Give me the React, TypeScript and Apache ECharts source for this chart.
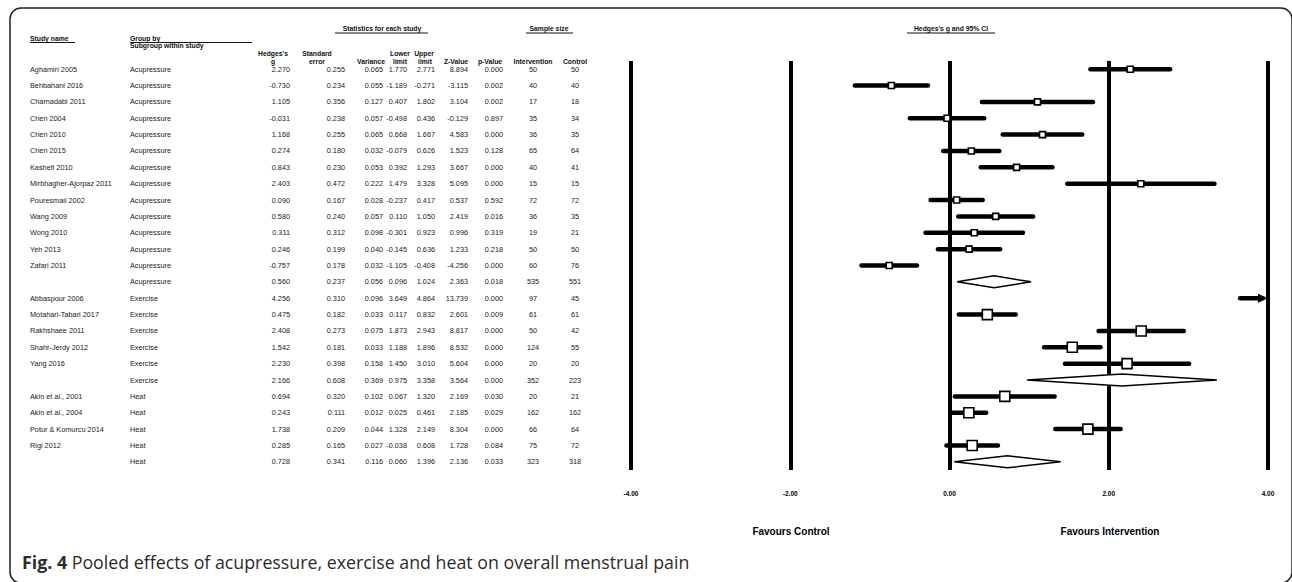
import React, { useEffect, useRef } from "react";
import * as echarts from "echarts";

// ---------- DATA ----------
const studyNames = [
  "Aghamiri 2005", "Behbahani 2016", "Charnadabi 2011", "Chen 2004", "Chen 2010", "Chen 2015",
  "Kashefi 2010", "Mirbhagher-Ajorpaz 2011", "Pouresmail 2002", "Wang 2009", "Wong 2010", "Yeh 2013",
  "Zafari 2011", "",
  "Abbaspour 2006", "Motahari-Tabari 2017", "Rakhshaee 2011", "Shahr-Jerdy 2012", "Yang 2016", "",
  "Akin et al., 2001", "Akin et al., 2004", "Potur & Komurcu 2014", "Rigi 2012", "",
];
const subgroups = [
  "Acupressure", "Acupressure", "Acupressure", "Acupressure", "Acupressure", "Acupressure",
  "Acupressure", "Acupressure", "Acupressure", "Acupressure", "Acupressure", "Acupressure",
  "Acupressure", "Acupressure",
  "Exercise", "Exercise", "Exercise", "Exercise", "Exercise", "Exercise",
  "Heat", "Heat", "Heat", "Heat", "Heat",
];
const hedgesG = [2.27, -0.73, 1.105, -0.031, 1.168, 0.274, 0.843, 2.403, 0.09, 0.58, 0.311, 0.246, -0.757, 0.56,
  4.256, 0.475, 2.408, 1.542, 2.23, 2.166, 0.694, 0.243, 1.738, 0.285, 0.728];
const stdError = [0.255, 0.234, 0.356, 0.238, 0.255, 0.18, 0.23, 0.472, 0.167, 0.24, 0.312, 0.199, 0.178, 0.237,
  0.31, 0.182, 0.273, 0.181, 0.398, 0.608, 0.32, 0.111, 0.209, 0.165, 0.341];
const variance = [0.065, 0.055, 0.127, 0.057, 0.065, 0.032, 0.053, 0.222, 0.028, 0.057, 0.098, 0.04, 0.032, 0.056,
  0.096, 0.033, 0.075, 0.033, 0.158, 0.369, 0.102, 0.012, 0.044, 0.027, 0.116];
const lowerLimit = [1.77, -1.189, 0.407, -0.498, 0.668, -0.079, 0.392, 1.479, -0.237, 0.11, -0.301, -0.145, -1.105, 0.096,
  3.649, 0.117, 1.873, 1.188, 1.45, 0.975, 0.067, 0.025, 1.328, -0.038, 0.06];
const upperLimit = [2.771, -0.271, 1.802, 0.436, 1.667, 0.626, 1.293, 3.328, 0.417, 1.05, 0.923, 0.636, -0.408, 1.024,
  4.864, 0.832, 2.943, 1.896, 3.01, 3.358, 1.32, 0.461, 2.149, 0.608, 1.396];
const zValue = [8.894, -3.115, 3.104, -0.129, 4.583, 1.523, 3.667, 5.095, 0.537, 2.419, 0.996, 1.233, -4.256, 2.363,
  13.739, 2.601, 8.817, 8.532, 5.604, 3.564, 2.169, 2.185, 8.304, 1.728, 2.136];
const pValue = [0.0, 0.002, 0.002, 0.897, 0.0, 0.128, 0.0, 0.0, 0.592, 0.016, 0.319, 0.218, 0.0, 0.018,
  0.0, 0.009, 0.0, 0.0, 0.0, 0.0, 0.03, 0.029, 0.0, 0.084, 0.033];
const nIntervention = [50, 40, 17, 35, 36, 65, 40, 15, 72, 36, 19, 50, 60, 535, 97, 61, 50, 124, 20, 352, 20, 162, 66, 75, 323];
const nControl = [50, 40, 18, 34, 35, 64, 41, 15, 72, 35, 21, 50, 76, 551, 45, 61, 42, 55, 20, 223, 21, 162, 64, 72, 318];

const axisMin = -4;
const axisMax = 4;
const axisInterval = 2;

const captionBold = "Fig. 4";
const captionText = " Pooled effects of acupressure, exercise and heat on overall menstrual pain";

// ---------- STYLE / LAYOUT ----------
const FONT = "'Liberation Sans', Arial, sans-serif";
const CAP_FONT = "'Open Sans', 'Noto Sans', sans-serif";
const TXT = "#222222";
const boxSize: Record<string, number> = { Acupressure: 6, Exercise: 10, Heat: 10 };

const columns = [
  { x: 30, align: "left", get: (i: number) => studyNames[i] },
  { x: 130, align: "left", get: (i: number) => subgroups[i] },
  { x: 290, align: "right", get: (i: number) => hedgesG[i].toFixed(3) },
  { x: 345, align: "right", get: (i: number) => stdError[i].toFixed(3) },
  { x: 383, align: "right", get: (i: number) => variance[i].toFixed(3) },
  { x: 407, align: "right", get: (i: number) => lowerLimit[i].toFixed(3) },
  { x: 435, align: "right", get: (i: number) => upperLimit[i].toFixed(3) },
  { x: 468, align: "right", get: (i: number) => zValue[i].toFixed(3) },
  { x: 503, align: "right", get: (i: number) => pValue[i].toFixed(3) },
  { x: 533, align: "center", get: (i: number) => String(nIntervention[i]) },
  { x: 575, align: "center", get: (i: number) => String(nControl[i]) },
];

function txt(text: string, x: number, y: number, opts: any = {}) {
  const align = opts.align || "left";
  return {
    type: "text",
    x,
    y,
    silent: true,
    style: {
      text,
      fontSize: opts.fontSize || 7.3,
      fontWeight: opts.bold ? "bold" : "normal",
      fontFamily: opts.fontFamily || FONT,
      fill: opts.fill || TXT,
      align,
      textAlign: align,
      verticalAlign: "middle",
      textVerticalAlign: "middle",
      lineHeight: opts.lineHeight,
      rich: opts.rich,
    },
  };
}
function hline(x1: number, x2: number, y: number, w = 1) {
  return {
    type: "line",
    silent: true,
    shape: { x1, y1: y, x2, y2: y },
    style: { stroke: "#111", lineWidth: w },
  };
}

export default function App() {
  const ref = useRef<HTMLDivElement>(null);

  useEffect(() => {
    if (!ref.current) return;
    const chart = echarts.init(ref.current, null, { renderer: "svg" });
    const n = studyNames.length;
    const isSummary = studyNames.map((s) => s === "");

    const studyData: any[] = [];
    const summaryData: any[] = [];
    for (let i = 0; i < n; i++) {
      const item = [hedgesG[i], i, lowerLimit[i], upperLimit[i], boxSize[subgroups[i]]];
      if (isSummary[i]) summaryData.push(item);
      else studyData.push(item);
    }
    const tableData = studyNames.map((_, i) => [0, i]);

    const hs = 6.8;
    const H = (t: string, x: number, y: number, align = "center") =>
      txt(t, x, y, { bold: true, fontSize: hs, align, lineHeight: 8, fill: "#111" });
    const graphics: any[] = [
      {
        type: "rect",
        silent: true,
        shape: { x: 10, y: 8, width: 1282, height: 575, r: 11 },
        style: { fill: "none", stroke: "#222", lineWidth: 1.5 },
      },
      H("Study name", 30, 38, "left"),
      hline(30, 75, 42.5),
      H("Group by", 130, 38, "left"),
      hline(130, 252, 42.5),
      H("Subgroup within study", 130, 45.5, "left"),
      H("Statistics for each study", 382, 28.5),
      hline(335, 428, 33),
      H("Sample size", 549, 28.5),
      hline(526, 573, 33),
      H("Hedges's g and 95% CI", 951, 28.5),
      hline(907, 995, 33),
      H("Hedges's", 273, 53),
      H("g", 273, 61.5),
      H("Standard", 317, 53),
      H("error", 317, 61.5),
      H("Variance", 371, 61.5),
      H("Lower", 400, 53),
      H("limit", 400, 61.5),
      H("Upper", 424, 53),
      H("limit", 425, 61.5),
      H("Z-Value", 456, 61.5),
      H("p-Value", 490, 61.5),
      H("Intervention", 533, 61.5),
      H("Control", 575, 61.5),
      txt("Favours Control", 791, 531, { bold: true, fontSize: 10, align: "center", fill: "#000" }),
      txt("Favours Intervention", 1110, 531, { bold: true, fontSize: 10, align: "center", fill: "#000" }),
      txt("{b|" + captionBold + "}" + captionText, 22, 562, {
        fontSize: 17.8,
        fontFamily: CAP_FONT,
        fill: "#2b2b2b",
        rich: { b: { fontWeight: "bold", fontSize: 17.8, fontFamily: CAP_FONT, fill: "#2b2b2b" } },
      }),
    ];

    chart.setOption({
      animation: false,
      backgroundColor: "#fff",
      grid: { left: 631, right: 24, top: 61, height: 409, containLabel: false },
      xAxis: {
        type: "value",
        min: axisMin,
        max: axisMax,
        interval: axisInterval,
        axisLine: { show: false },
        axisTick: { show: false },
        splitLine: { show: true, lineStyle: { color: "#000", width: 4 } },
        axisLabel: {
          formatter: (v: number) => v.toFixed(2),
          fontSize: 6.5,
          fontWeight: "bold",
          fontFamily: FONT,
          color: "#000",
          margin: 20,
          showMinLabel: true,
          showMaxLabel: true,
        },
      },
      yAxis: {
        type: "value",
        min: -0.5,
        max: n - 0.5,
        inverse: true,
        show: false,
        splitLine: { show: false },
      },
      graphic: { elements: graphics },
      series: [
        {
          type: "custom",
          name: "table",
          clip: false,
          silent: true,
          data: tableData,
          encode: { x: 0, y: 1 },
          renderItem: (params: any, api: any) => {
            const i = api.value(1);
            const y = api.coord([0, i])[1];
            return {
              type: "group",
              children: columns.map((c) => txt(c.get(i), c.x, y, { align: c.align })),
            };
          },
        },
        {
          type: "custom",
          name: "studies",
          clip: false,
          silent: true,
          data: studyData,
          encode: { x: 0, y: 1 },
          renderItem: (params: any, api: any) => {
            const est = api.value(0);
            const i = api.value(1);
            const lo = api.value(2);
            const hi = api.value(3);
            const s = api.value(4);
            const y = api.coord([0, i])[1];
            const xl = api.coord([Math.max(lo, axisMin), i])[0];
            const xh = api.coord([Math.min(hi, axisMax), i])[0];
            const children: any[] = [];
            if (hi > axisMax) {
              children.push({
                type: "line",
                shape: { x1: xl, y1: y, x2: xh - 6, y2: y },
                style: { stroke: "#000", lineWidth: 4.5, lineCap: "round" },
              });
              children.push({
                type: "polygon",
                shape: { points: [[xh - 10, y - 4.5], [xh, y], [xh - 10, y + 4.5]] },
                style: { fill: "#000" },
              });
            } else {
              children.push({
                type: "line",
                shape: { x1: xl, y1: y, x2: xh, y2: y },
                style: { stroke: "#000", lineWidth: 4.5, lineCap: "round" },
              });
            }
            if (est >= axisMin && est <= axisMax) {
              const xe = api.coord([est, i])[0];
              children.push({
                type: "rect",
                shape: { x: xe - s / 2, y: y - s / 2, width: s, height: s },
                style: { fill: "#fff", stroke: "#000", lineWidth: 1.6 },
              });
            }
            return { type: "group", children };
          },
        },
        {
          type: "custom",
          name: "summaries",
          clip: false,
          silent: true,
          data: summaryData,
          encode: { x: 0, y: 1 },
          renderItem: (params: any, api: any) => {
            const est = api.value(0);
            const i = api.value(1);
            const lo = api.value(2);
            const hi = api.value(3);
            const y = api.coord([0, i])[1];
            const xl = api.coord([lo, i])[0];
            const xh = api.coord([hi, i])[0];
            const xe = api.coord([est, i])[0];
            return {
              type: "polygon",
              shape: { points: [[xl, y], [xe, y - 6], [xh, y], [xe, y + 6]] },
              style: { fill: "#fff", stroke: "#000", lineWidth: 1.5 },
            };
          },
        },
      ],
    });
    return () => chart.dispose();
  }, []);

  return (
    <div
      ref={ref}
      style={{ position: "absolute", left: 0, top: 0, width: 1292, height: 582, background: "#fff" }}
    />
  );
}
